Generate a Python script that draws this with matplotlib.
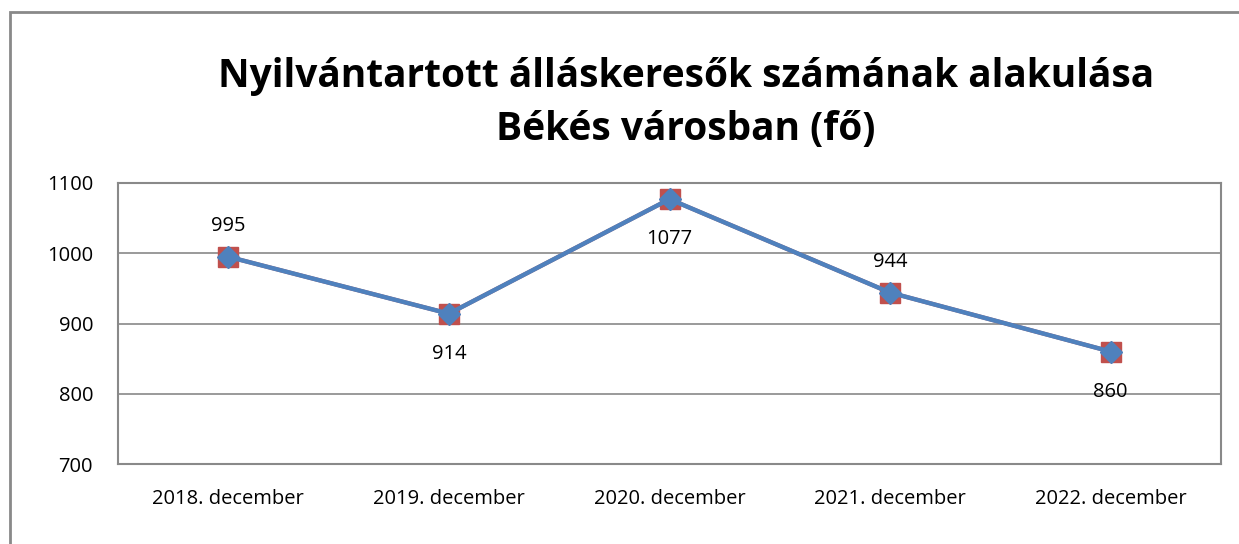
import numpy as np
import matplotlib.pyplot as plt
from matplotlib.patches import Rectangle

categories = ['2018. december', '2019. december', '2020. december',
              '2021. december', '2022. december']
values = [995, 914, 1077, 944, 860]
label_pos = ['above', 'below', 'below', 'above', 'below']
yticks = [700, 800, 900, 1000, 1100]

plt.rcParams['font.family'] = ['Open Sans', 'DejaVu Sans']

W, H = 1239, 544
fig = plt.figure(figsize=(W / 100, H / 100), dpi=100)

# outer chart border
fig.patches.append(Rectangle((9.5 / W, -0.1), 1.2, 1 - 12.5 / H + 0.1,
                             transform=fig.transFigure, fill=False,
                             edgecolor='#898989', linewidth=2))

ax = fig.add_axes([118 / W, 1 - 464 / H, (1221 - 118) / W, (464 - 183) / H])
x = np.arange(len(categories))

ax.plot(x, values, color='#c0504d', linewidth=3, marker='s', markersize=14.5,
        markerfacecolor='#c0504d', markeredgecolor='#c0504d', zorder=3)
ax.plot(x, values, color='#4f81bd', linewidth=3.2, marker='D', markersize=11.5,
        markerfacecolor='#4f81bd', markeredgecolor='#4f81bd', zorder=4)

for xi, v, p in zip(x, values, label_pos):
    dy = 31 if p == 'above' else -40
    ax.annotate(str(v), (xi, v), xytext=(0, dy), textcoords='offset pixels',
                ha='center', va='center', fontsize=14.5, zorder=5)

ax.set_xlim(-0.5, len(categories) - 0.5)
ax.set_ylim(700, 1100)
ax.set_yticks(yticks)
ax.set_xticks(x)
ax.set_xticklabels(categories)
ax.tick_params(axis='both', length=0, labelsize=14.5)
ax.tick_params(axis='x', pad=18)
ax.tick_params(axis='y', pad=18)
ax.grid(axis='y', color='#898989', linewidth=1.2)
for s in ax.spines.values():
    s.set_color('#898989')
    s.set_linewidth(1.5)

fig.text(686 / W, 1 - 103 / H,
         'Nyilvántartott álláskeresők számának alakulása\nBékés városban (fő)',
         ha='center', va='center', fontsize=28, fontweight='bold',
         linespacing=1.45)

fig.savefig('out.png', dpi=100)
